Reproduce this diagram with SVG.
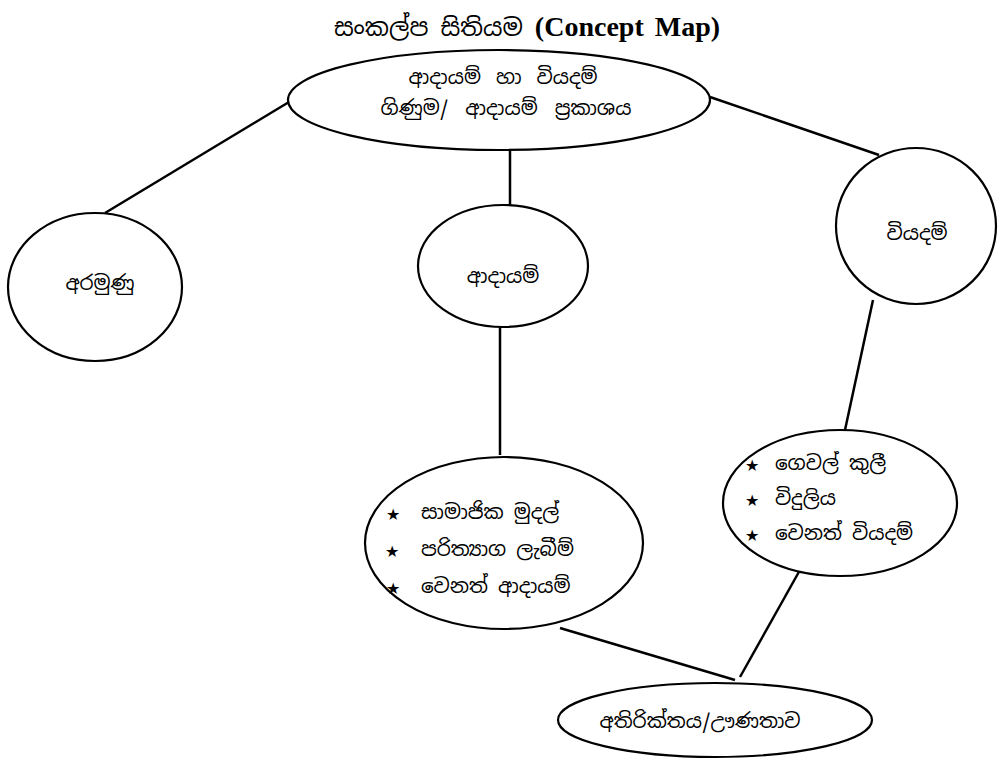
<svg xmlns="http://www.w3.org/2000/svg" width="1001" height="760" viewBox="0 0 1001 760">
<style>
.n{fill:#fff;stroke:#000;stroke-width:2.2}
.c line{stroke:#000;stroke-width:2.5}
.s{font-family:"Noto Sans Sinhala","Noto Sans","Iskoola Pota",sans-serif;font-size:20px;fill:#000}
.t{text-anchor:middle}
.st{font-family:"DejaVu Sans",sans-serif;font-size:16px;fill:#000}
</style>
<rect width="1001" height="760" fill="#fff"/>
<g id="title">
<text x="527" y="36" text-anchor="middle"><tspan class="s" style="font-size:24px">සංකල්ප සිතියම </tspan><tspan style="font-family:'Liberation Serif',serif;font-weight:bold;font-size:28px;word-spacing:4px">(Concept Map)</tspan></text>
</g>
<g class="c" id="connectors">
<line x1="289" y1="102" x2="105" y2="213"/>
<line x1="510" y1="150" x2="510" y2="205"/>
<line x1="710" y1="97" x2="879" y2="155"/>
<line x1="500" y1="326" x2="500" y2="455"/>
<line x1="873" y1="300" x2="845" y2="430"/>
<line x1="560" y1="628" x2="735" y2="680"/>
<line x1="740" y1="677" x2="800" y2="570"/>
</g>
<g id="n-top">
<ellipse class="n" cx="499" cy="100" rx="211" ry="50"/>
<text class="s t" x="503" y="84" style="word-spacing:5px">ආදායම් හා වියදම්</text>
<text class="s t" x="506" y="115" style="word-spacing:7px">ගිණුම/ ආදායම් ප්‍රකාශය</text>
</g>
<g id="n-arumunu">
<ellipse class="n" cx="95" cy="287" rx="87" ry="74"/>
<text class="s t" x="100" y="290">අරමුණු</text>
</g>
<g id="n-adayam">
<ellipse class="n" cx="503" cy="266" rx="85" ry="61"/>
<text class="s t" x="503" y="283">ආදායම්</text>
</g>
<g id="n-viyadam">
<ellipse class="n" cx="916" cy="226" rx="80" ry="78"/>
<text class="s t" x="917" y="240">වියදම්</text>
</g>
<g id="n-income-list">
<ellipse class="n" cx="504" cy="543" rx="139" ry="86"/>
<text class="st" x="386" y="520">★</text>
<text class="s" x="421" y="519">සාමාජික මුදල්</text>
<text class="st" x="385" y="557">★</text>
<text class="s" x="421" y="556">පරිත්‍යාග ලැබීම්</text>
<text class="st" x="386" y="594">★</text>
<text class="s" x="421" y="593">වෙනත් ආදායම්</text>
</g>
<g id="n-expense-list">
<ellipse class="n" cx="840" cy="503" rx="117" ry="73"/>
<text class="st" x="745" y="471">★</text>
<text class="s" x="775" y="470">ගෙවල් කුලී</text>
<text class="st" x="745" y="506">★</text>
<text class="s" x="775" y="505">විදුලිය</text>
<text class="st" x="745" y="541">★</text>
<text class="s" x="775" y="540">වෙනත් වියදම්</text>
</g>
<g id="n-surplus">
<ellipse class="n" cx="715" cy="720" rx="157" ry="37"/>
<text class="s t" x="700" y="728">අතිරික්තය/ඌණතාව</text>
</g>
</svg>
